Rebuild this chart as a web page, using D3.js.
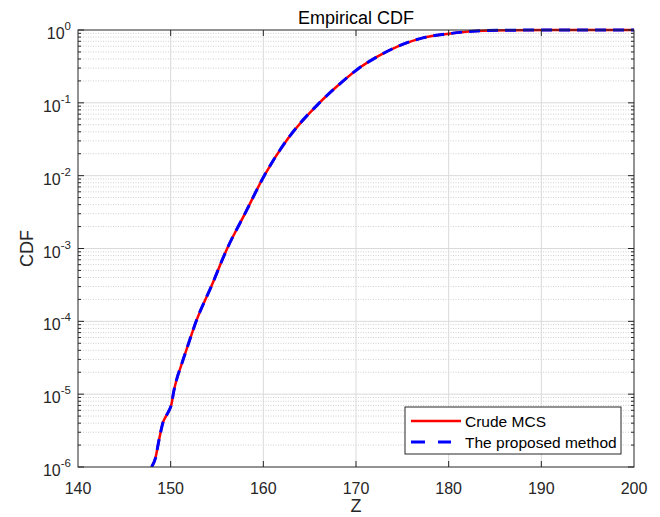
<!DOCTYPE html>
<html>
<head>
<meta charset="utf-8">
<script src="https://cdn.jsdelivr.net/npm/d3@7"></script>
<style>
  body { margin: 0; background: #fff; }
  svg { font-family: "Liberation Sans", Arial, sans-serif; }
</style>
</head>
<body>
<svg id="chart" width="660" height="517"></svg>
<script>
// values
const zValues = [147.94, 148.34, 148.77, 149.2, 149.5, 149.78, 150.1, 150.32, 150.65, 151.12, 151.84, 152.75,
  154.45, 156.1, 158.1, 160.1, 162.6, 166.05, 167.9,
  170.1, 172.3, 174.7, 177.2, 180, 183, 186.6, 191, 200];
const crudeMcs = [1e-6, 1.3e-6, 2.45e-6, 4.2e-6, 5.0e-6, 5.8e-6, 7.4e-6, 1.07e-5, 1.6e-5, 2.45e-5, 4.6e-5, 1.0e-4,
  3.16e-4, 1.0e-3, 3.16e-3, 1.0e-2, 3.16e-2, 0.1, 0.166,
  0.285, 0.43, 0.61, 0.78, 0.89, 0.968, 0.993, 0.999, 1.0];
const proposed = [1e-6, 1.3e-6, 2.45e-6, 4.2e-6, 5.0e-6, 5.8e-6, 7.4e-6, 1.07e-5, 1.6e-5, 2.45e-5, 4.6e-5, 1.0e-4,
  3.16e-4, 1.0e-3, 3.16e-3, 1.0e-2, 3.16e-2, 0.1, 0.166,
  0.285, 0.43, 0.61, 0.78, 0.89, 0.968, 0.993, 0.999, 1.0];
const xTicks = [140, 150, 160, 170, 180, 190, 200];
const yExponents = [0, -1, -2, -3, -4, -5, -6];
const seriesNames = ["Crude MCS", "The proposed method"];

const plotLeft = 78, plotRight = 634, plotTop = 30, plotBottom = 467;
const axisColor = "#262626";

const svg = d3.select("#chart");
const x = d3.scaleLinear().domain([140, 200]).range([plotLeft, plotRight]);
const y = d3.scaleLog().domain([1e-6, 1]).range([plotBottom, plotTop]);

// minor y values (2..9 x 10^k)
const minorY = [];
for (let k = -6; k < 0; k++) {
  for (let m = 2; m <= 9; m++) minorY.push(m * Math.pow(10, k));
}

// grid
const grid = svg.append("g");
grid.selectAll(".minor").data(minorY).join("line")
  .attr("x1", plotLeft).attr("x2", plotRight)
  .attr("y1", d => y(d)).attr("y2", d => y(d))
  .attr("stroke", "#d0d0d0").attr("stroke-dasharray", "1,1.5");
grid.selectAll(".majy").data(yExponents.slice(1, -1)).join("line")
  .attr("x1", plotLeft).attr("x2", plotRight)
  .attr("y1", d => y(Math.pow(10, d))).attr("y2", d => y(Math.pow(10, d)))
  .attr("stroke", "#dadada");
grid.selectAll(".majx").data(xTicks.slice(1, -1)).join("line")
  .attr("x1", d => x(d)).attr("x2", d => x(d))
  .attr("y1", plotTop).attr("y2", plotBottom)
  .attr("stroke", "#dadada");

// curves
svg.append("clipPath").attr("id", "clip").append("rect")
  .attr("x", plotLeft).attr("y", plotTop - 2).attr("width", plotRight - plotLeft).attr("height", plotBottom - plotTop + 2);

const line = d3.line().x(d => x(d[0])).y(d => y(d[1])).curve(d3.curveMonotoneX);
svg.append("path")
  .datum(zValues.map((z, i) => [z, crudeMcs[i]]))
  .attr("clip-path", "url(#clip)")
  .attr("d", line).attr("fill", "none")
  .attr("stroke", "#ff0000").attr("stroke-width", 2.5);
svg.append("path")
  .datum(zValues.map((z, i) => [z, proposed[i]]))
  .attr("clip-path", "url(#clip)")
  .attr("d", line).attr("fill", "none")
  .attr("stroke", "#0000ff").attr("stroke-width", 3)
  .attr("stroke-dasharray", "11,7");

// box
svg.append("rect")
  .attr("x", plotLeft).attr("y", plotTop).attr("width", plotRight - plotLeft).attr("height", plotBottom - plotTop)
  .attr("fill", "none").attr("stroke", axisColor).attr("stroke-width", 1);

// ticks
const ticks = svg.append("g").attr("stroke", axisColor);
xTicks.slice(1, -1).forEach(t => {
  ticks.append("line").attr("x1", x(t)).attr("x2", x(t)).attr("y1", plotBottom).attr("y2", plotBottom - 6);
  ticks.append("line").attr("x1", x(t)).attr("x2", x(t)).attr("y1", plotTop).attr("y2", plotTop + 6);
});
yExponents.forEach(e => {
  const yy = y(Math.pow(10, e));
  ticks.append("line").attr("x1", plotLeft).attr("x2", plotLeft + 6).attr("y1", yy).attr("y2", yy);
  ticks.append("line").attr("x1", plotRight).attr("x2", plotRight - 6).attr("y1", yy).attr("y2", yy);
});
minorY.forEach(v => {
  const yy = y(v);
  ticks.append("line").attr("x1", plotLeft).attr("x2", plotLeft + 3).attr("y1", yy).attr("y2", yy);
  ticks.append("line").attr("x1", plotRight).attr("x2", plotRight - 3).attr("y1", yy).attr("y2", yy);
});

// tick labels
svg.append("g").selectAll("text").data(xTicks).join("text")
  .attr("x", d => x(d)).attr("y", plotBottom + 27)
  .attr("text-anchor", "middle").attr("font-size", 16).attr("fill", axisColor)
  .text(d => d);

const yl = svg.append("g").selectAll("text").data(yExponents).join("text")
  .attr("x", plotLeft - 7).attr("y", d => y(Math.pow(10, d)) + 9)
  .attr("text-anchor", "end").attr("font-size", 16).attr("fill", axisColor);
yl.append("tspan").text("10");
yl.append("tspan").attr("dy", -9).attr("font-size", 11.5).text(d => d);

// title and axis labels
svg.append("text").attr("x", (plotLeft + plotRight) / 2).attr("y", 24)
  .attr("text-anchor", "middle").attr("font-size", 18).attr("fill", "#000")
  .text("Empirical CDF");
svg.append("text").attr("x", (plotLeft + plotRight) / 2).attr("y", 512)
  .attr("text-anchor", "middle").attr("font-size", 18).attr("fill", axisColor)
  .text("Z");
svg.append("text")
  .attr("transform", `translate(33,${(plotTop + plotBottom) / 2}) rotate(-90)`)
  .attr("text-anchor", "middle").attr("font-size", 18).attr("fill", axisColor)
  .text("CDF");

// legend
const legend = svg.append("g").attr("transform", "translate(405,407)");
legend.append("rect").attr("width", 216).attr("height", 47)
  .attr("fill", "#fff").attr("stroke", axisColor);
const legendStyles = [
  { color: "#ff0000", width: 2.5, dash: null },
  { color: "#0000ff", width: 3, dash: "14,13,13,100" }
];
legend.selectAll(".item").data(seriesNames).join("g")
  .attr("transform", (d, i) => `translate(0,${14 + i * 21})`)
  .each(function (d, i) {
    const g = d3.select(this);
    g.append("line").attr("x1", 6).attr("x2", 56).attr("y1", 0).attr("y2", 0)
      .attr("stroke", legendStyles[i].color).attr("stroke-width", legendStyles[i].width)
      .attr("stroke-dasharray", legendStyles[i].dash);
    g.append("text").attr("x", 60).attr("y", 5.5).attr("font-size", 15.5).attr("fill", "#000").text(d);
  });
</script>
</body>
</html>
